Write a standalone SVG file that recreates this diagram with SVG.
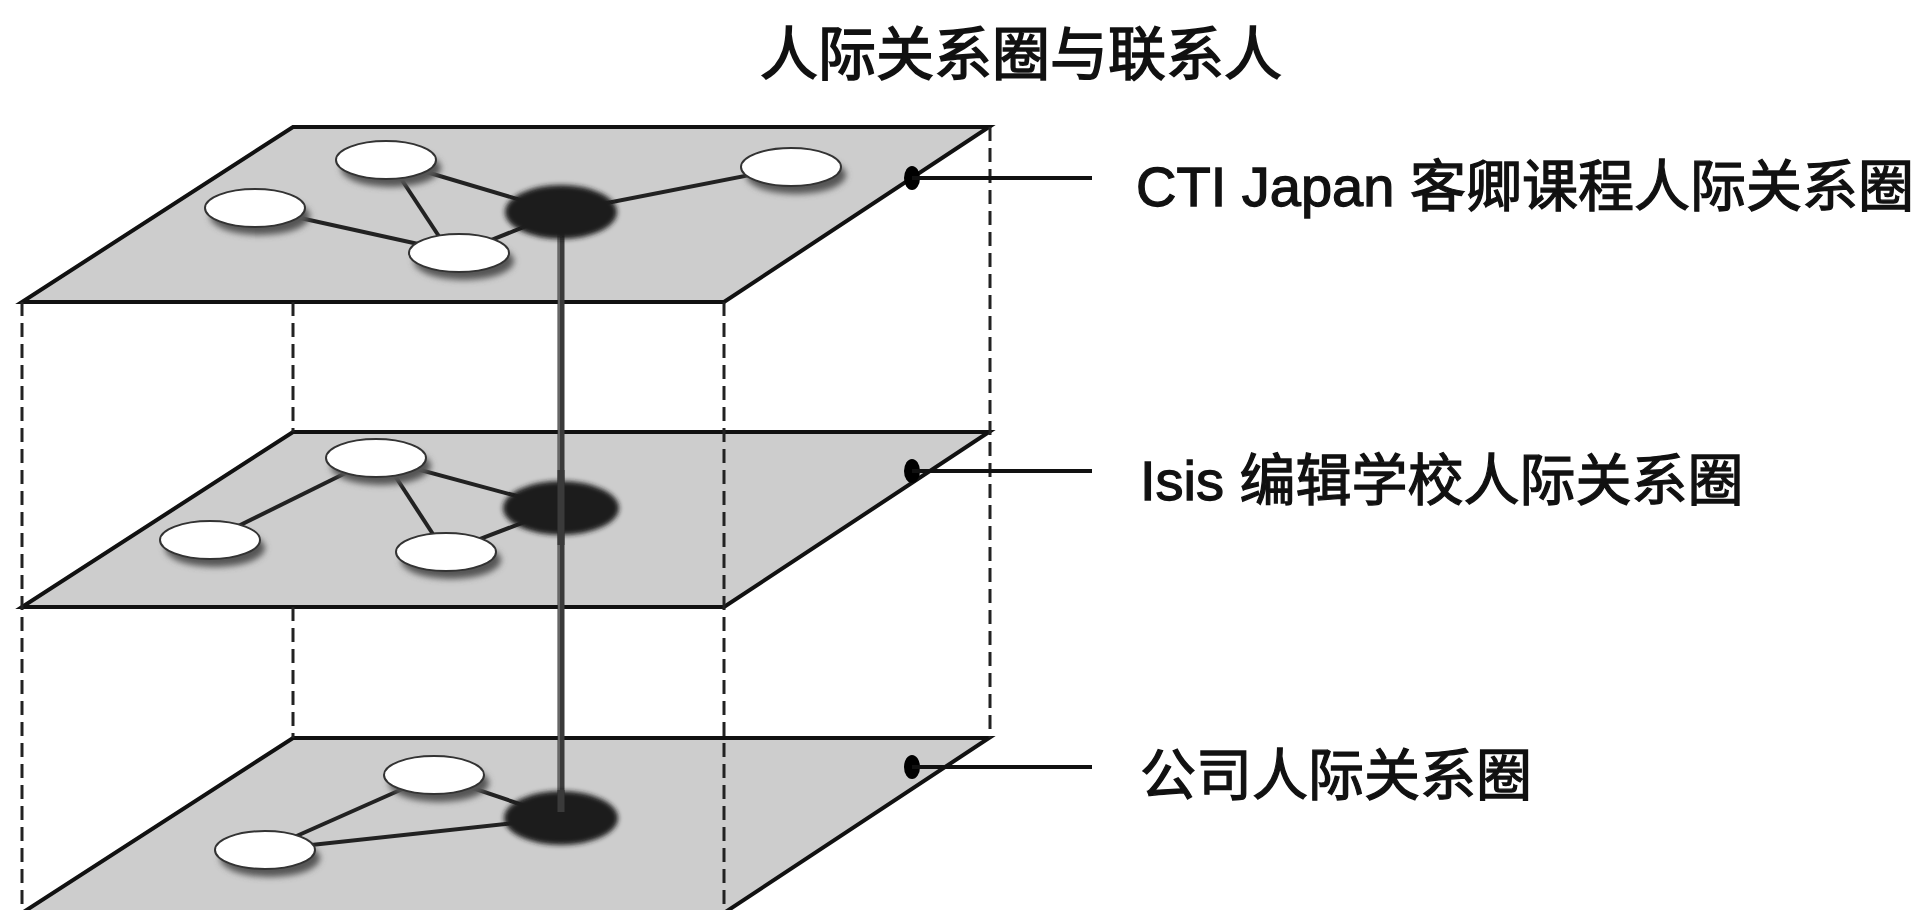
<svg xmlns="http://www.w3.org/2000/svg" width="1917" height="910" viewBox="0 0 1917 910">
<defs>
<filter id="blur" x="-30%" y="-30%" width="160%" height="160%"><feGaussianBlur stdDeviation="3"/></filter>
<filter id="soft" x="-20%" y="-20%" width="140%" height="140%"><feGaussianBlur stdDeviation="2.5"/></filter>
<style>
.plane{fill:#cdcdcd;stroke:#111;stroke-width:4;stroke-linejoin:miter}
.dash{stroke:#222;stroke-width:3;stroke-dasharray:14 7;fill:none}
.edge{stroke:#222;stroke-width:4;fill:none}
.wn{fill:#fff;stroke:#333;stroke-width:2}
.sh{fill:#555;filter:url(#blur)}
.dn{fill:#1c1c1c;filter:url(#soft)}
.lead{stroke:#111;stroke-width:4;fill:none}
.dot{fill:#000}
.lbl{font-family:"Liberation Sans","Noto Sans CJK SC",sans-serif;font-size:56px;fill:#111;stroke:#111;stroke-width:1.3}
.cjk{font-family:"Noto Sans CJK SC",sans-serif}
.title{font-family:"Noto Sans CJK SC",sans-serif;font-size:58px;fill:#111;stroke:#111;stroke-width:1.6}
</style>
</defs>
<rect width="1917" height="910" fill="#fff"/>
<text class="title" x="1021" y="75" text-anchor="middle">人际关系圈与联系人</text>

<g id="plane-top">
<polygon class="plane" points="293,127 989,127 724,302 22,302"/>
</g>
<g id="plane-mid">
<polygon class="plane" points="293,432 989,432 724,607 22,607"/>
</g>
<g id="plane-bot">
<polygon class="plane" points="293,738 989,738 724,913 22,913"/>
</g>

<g id="connectors">
<line class="edge" x1="386" y1="160" x2="561" y2="212"/>
<line class="edge" x1="392" y1="165" x2="448" y2="250"/>
<line class="edge" x1="255" y1="208" x2="459" y2="253"/>
<line class="edge" x1="459" y1="253" x2="561" y2="212"/>
<line class="edge" x1="561" y1="212" x2="791" y2="167"/>

<line class="edge" x1="376" y1="458" x2="561" y2="508"/>
<line class="edge" x1="376" y1="458" x2="210" y2="540"/>
<line class="edge" x1="386" y1="462" x2="442" y2="548"/>
<line class="edge" x1="446" y1="552" x2="561" y2="508"/>

<line class="edge" x1="434" y1="775" x2="265" y2="850"/>
<line class="edge" x1="265" y1="850" x2="561" y2="818"/>
<line class="edge" x1="434" y1="775" x2="561" y2="818"/>
</g>

<g id="rod">
<line x1="561" y1="225" x2="561" y2="810" stroke="#3a3a3a" stroke-width="7"/>
<line x1="559" y1="225" x2="559" y2="810" stroke="#777" stroke-width="1.5"/>
</g>

<g id="node-top-dark"><ellipse class="dn" cx="561" cy="212" rx="56" ry="27"/></g>
<g id="node-top-a"><ellipse class="sh" cx="391" cy="168" rx="50" ry="19"/><ellipse class="wn" cx="386" cy="160" rx="50" ry="19"/></g>
<g id="node-top-b"><ellipse class="sh" cx="796" cy="175" rx="50" ry="19"/><ellipse class="wn" cx="791" cy="167" rx="50" ry="19"/></g>
<g id="node-top-c"><ellipse class="sh" cx="260" cy="216" rx="50" ry="19"/><ellipse class="wn" cx="255" cy="208" rx="50" ry="19"/></g>
<g id="node-top-d"><ellipse class="sh" cx="464" cy="261" rx="50" ry="19"/><ellipse class="wn" cx="459" cy="253" rx="50" ry="19"/></g>

<g id="node-mid-dark"><ellipse class="dn" cx="561" cy="508" rx="58" ry="27"/></g>
<g id="node-mid-a"><ellipse class="sh" cx="381" cy="466" rx="50" ry="19"/><ellipse class="wn" cx="376" cy="458" rx="50" ry="19"/></g>
<g id="node-mid-b"><ellipse class="sh" cx="215" cy="548" rx="50" ry="19"/><ellipse class="wn" cx="210" cy="540" rx="50" ry="19"/></g>
<g id="node-mid-c"><ellipse class="sh" cx="451" cy="560" rx="50" ry="19"/><ellipse class="wn" cx="446" cy="552" rx="50" ry="19"/></g>

<g id="node-bot-dark"><ellipse class="dn" cx="561" cy="818" rx="57" ry="27"/></g>
<g id="node-bot-a"><ellipse class="sh" cx="439" cy="783" rx="50" ry="19"/><ellipse class="wn" cx="434" cy="775" rx="50" ry="19"/></g>
<g id="node-bot-b"><ellipse class="sh" cx="270" cy="858" rx="50" ry="19"/><ellipse class="wn" cx="265" cy="850" rx="50" ry="19"/></g>

<g id="rod-front">
<line x1="561" y1="470" x2="561" y2="545" stroke="#3a3a3a" stroke-width="7"/>
<line x1="561" y1="790" x2="561" y2="812" stroke="#3a3a3a" stroke-width="7"/>
</g>

<g id="guides">
<line class="dash" x1="22" y1="302" x2="22" y2="910"/>
<line class="dash" x1="293" y1="302" x2="293" y2="432"/>
<line class="dash" x1="293" y1="607" x2="293" y2="738"/>
<line class="dash" x1="724" y1="302" x2="724" y2="910"/>
<line class="dash" x1="990" y1="127" x2="990" y2="738"/>
</g>

<g id="label-top">
<ellipse class="dot" cx="912" cy="178" rx="8" ry="12"/>
<line class="lead" x1="912" y1="178" x2="1092" y2="178"/>
<text class="lbl" x="1136" y="206">CTI Japan <tspan class="cjk">客卿课程人际关系圈</tspan></text>
</g>
<g id="label-mid">
<ellipse class="dot" cx="912" cy="471" rx="8" ry="12"/>
<line class="lead" x1="912" y1="471" x2="1092" y2="471"/>
<text class="lbl" x="1140" y="500">Isis <tspan class="cjk">编辑学校人际关系圈</tspan></text>
</g>
<g id="label-bot">
<ellipse class="dot" cx="912" cy="767" rx="8" ry="12"/>
<line class="lead" x1="912" y1="767" x2="1092" y2="767"/>
<text class="lbl" x="1140" y="795"><tspan class="cjk">公司人际关系圈</tspan></text>
</g>
</svg>
